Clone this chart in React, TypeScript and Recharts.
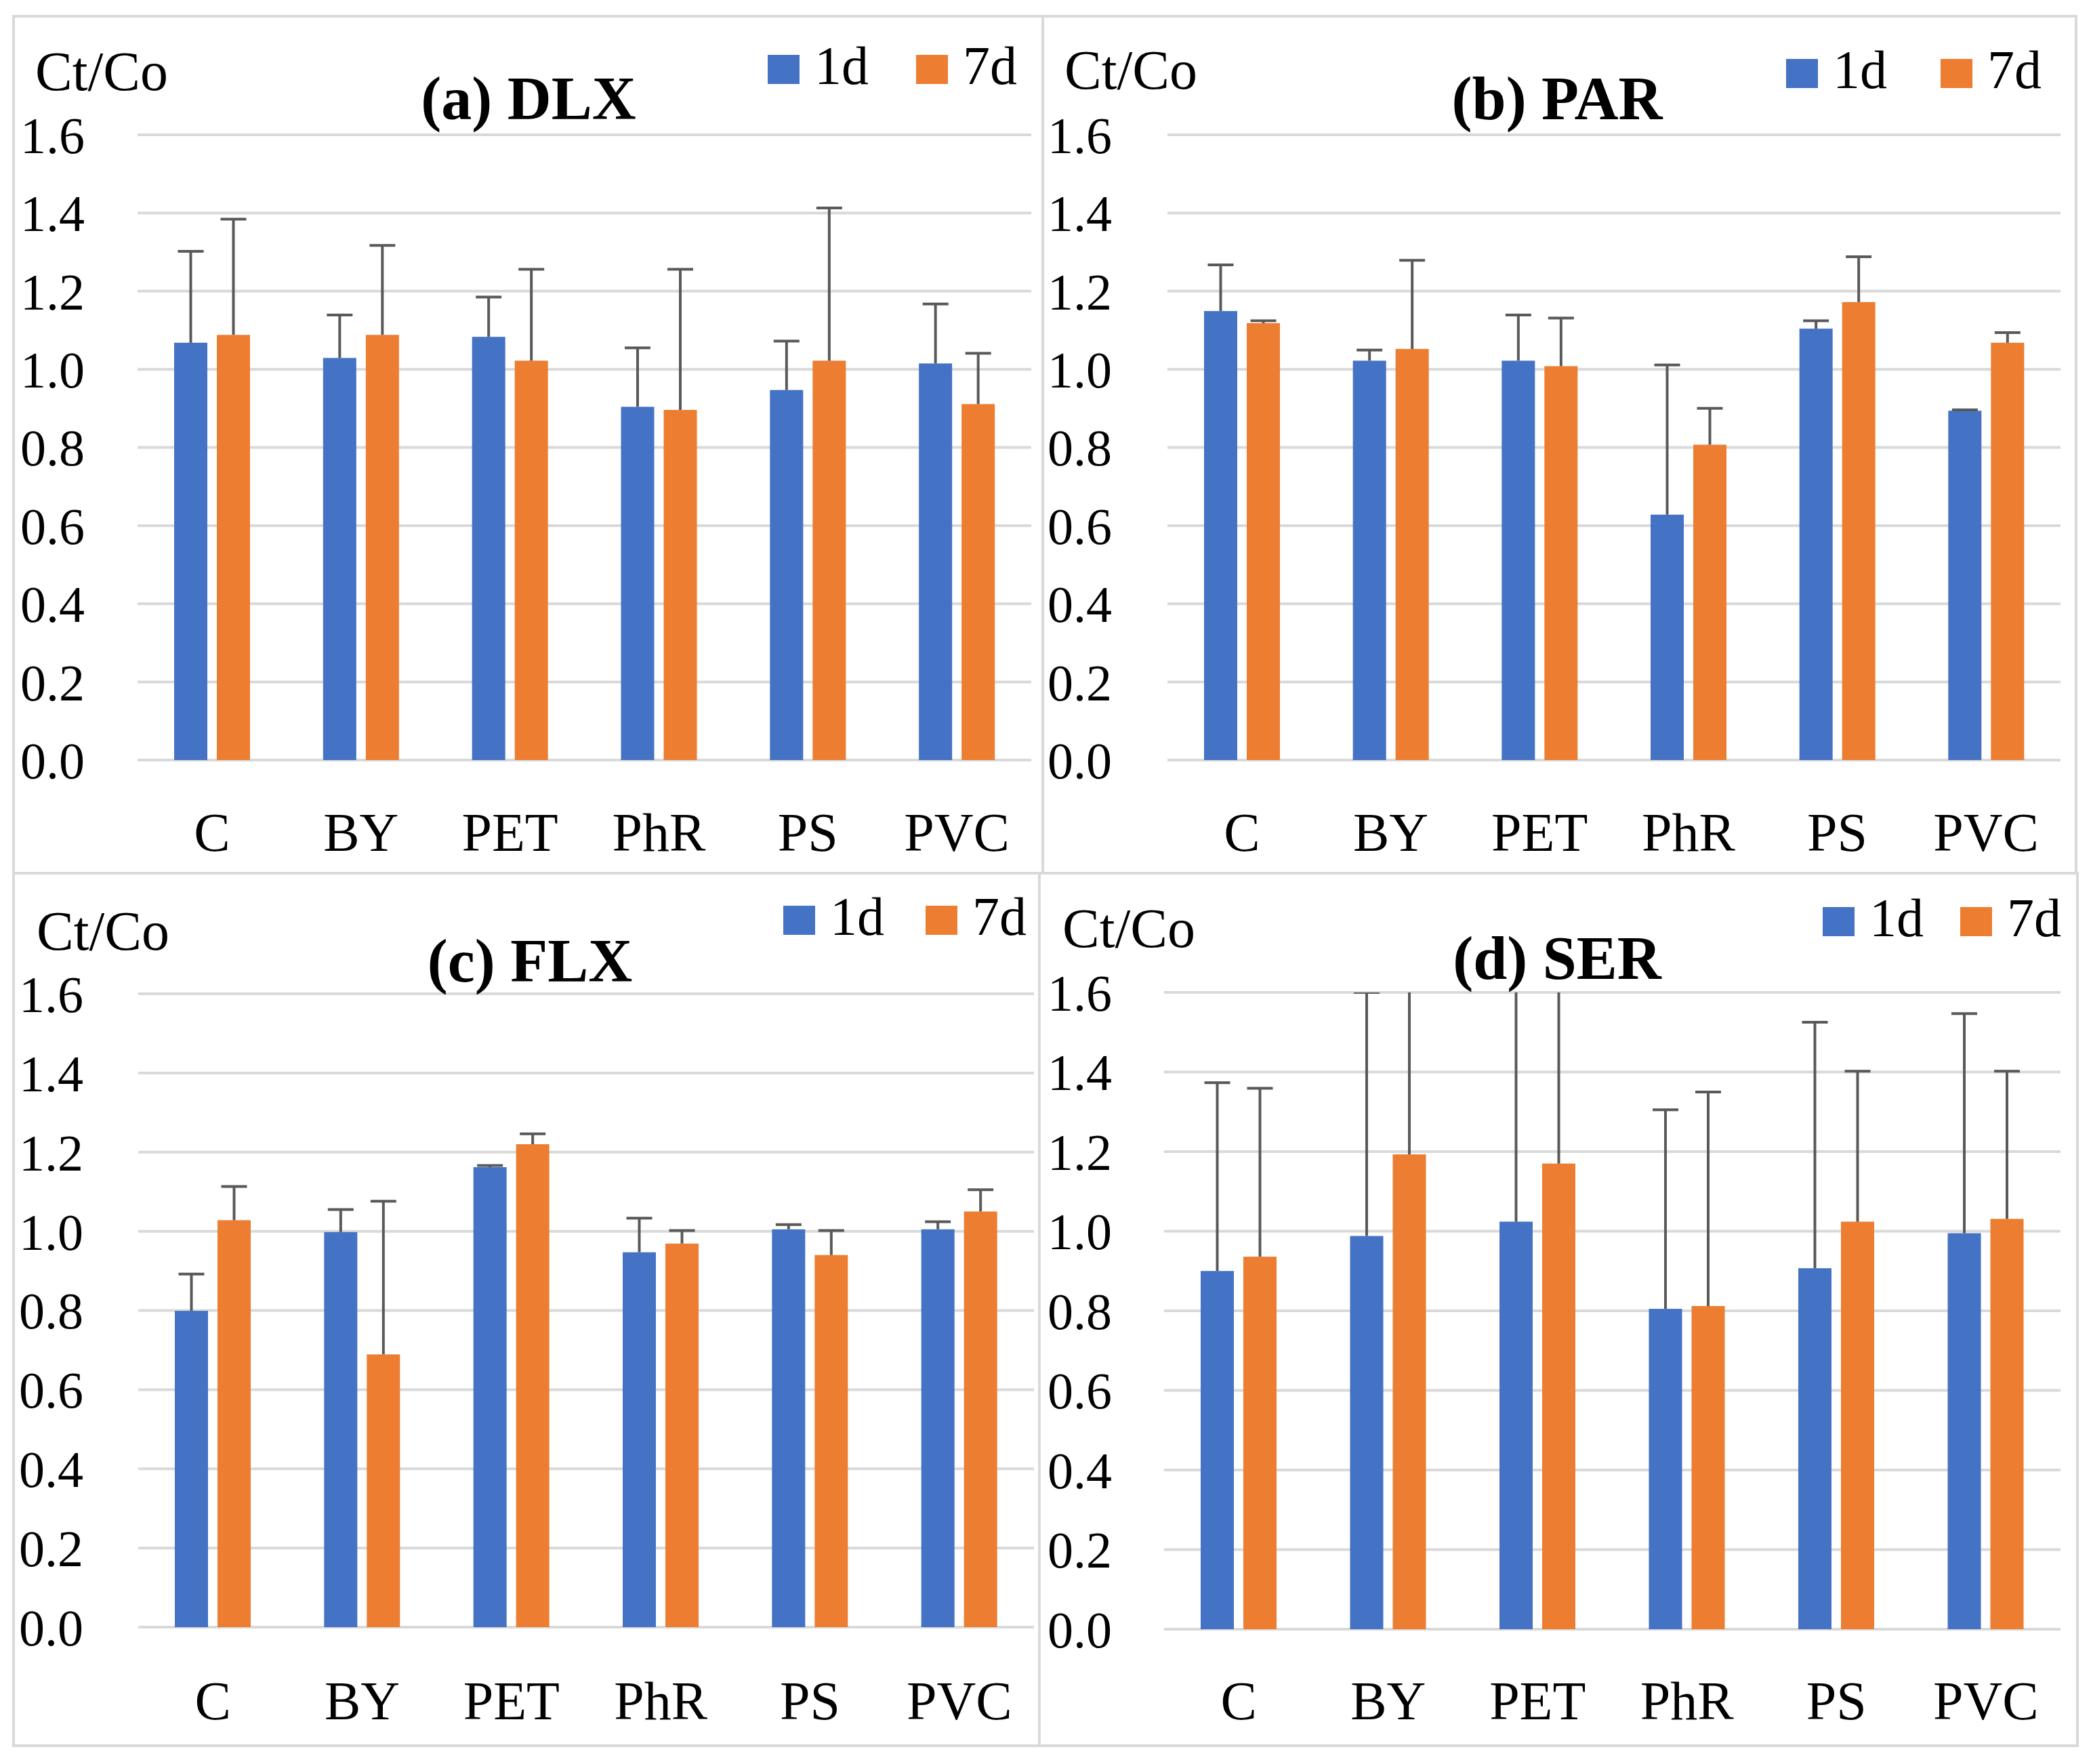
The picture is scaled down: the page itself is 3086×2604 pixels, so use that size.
import React from 'react';
import { BarChart, Bar, XAxis, YAxis, CartesianGrid, Legend } from 'recharts';

// ---------- data ----------
const categories = ['C', 'BY', 'PET', 'PhR', 'PS', 'PVC'];
const yTicks = [0, 0.2, 0.4, 0.6, 0.8, 1.0, 1.2, 1.4, 1.6];
const seriesNames = ['1d', '7d'];

const dlx1d = [1.068, 1.029, 1.083, 0.904, 0.947, 1.015];
const dlx1dErr = [0.234, 0.11, 0.102, 0.151, 0.125, 0.152];
const dlx7d = [1.088, 1.088, 1.022, 0.896, 1.022, 0.911];
const dlx7dErr = [0.296, 0.229, 0.234, 0.36, 0.391, 0.13];

const par1d = [1.149, 1.022, 1.022, 0.628, 1.104, 0.894];
const par1dErr = [0.118, 0.027, 0.117, 0.383, 0.02, 0.002];
const par7d = [1.118, 1.052, 1.008, 0.807, 1.172, 1.068];
const par7dErr = [0.006, 0.227, 0.123, 0.093, 0.116, 0.026];

const flx1d = [0.799, 0.998, 1.162, 0.947, 1.005, 1.005];
const flx1dErr = [0.093, 0.057, 0.004, 0.086, 0.012, 0.019];
const flx7d = [1.028, 0.689, 1.22, 0.969, 0.94, 1.05];
const flx7dErr = [0.085, 0.387, 0.026, 0.033, 0.062, 0.055];

const ser1d = [0.9, 0.988, 1.024, 0.805, 0.907, 0.995];
const ser1dErr = [0.473, 0.612, 0.7, 0.5, 0.618, 0.552];
const ser7d = [0.936, 1.193, 1.17, 0.812, 1.024, 1.031];
const ser7dErr = [0.423, 0.6, 0.6, 0.538, 0.378, 0.371];

// ---------- styles ----------
const BLUE = '#4472C4';
const ORANGE = '#ED7D31';
const ERR = '#595959';
const GRID = '#D9D9D9';
const FONT = '"Liberation Serif", "Times New Roman", serif';
const YMAX = yTicks[yTicks.length - 1];

function buildRows(v1: number[], e1: number[], v7: number[], e7: number[]) {
  return categories.map((c, i) => ({ cat: c, d1: v1[i], e1: e1[i], d7: v7[i], e7: e7[i] }));
}

function errShape(valKey: string, errKey: string) {
  return (props: any) => {
    const { x, y, width, height, fill, payload } = props;
    const v = payload[valKey];
    const e = payload[errKey];
    const k = v > 0 ? height / v : 0;
    const base = y + height;
    const top = base - YMAX * k;
    const eTop = y - e * k;
    const clipped = eTop < top - 0.5;
    const ey = Math.max(eTop, top);
    const cx = x + width / 2;
    return (
      <g>
        <rect x={x} y={y} width={width} height={height} fill={fill} />
        <line x1={cx} y1={y} x2={cx} y2={ey} stroke={ERR} strokeWidth={4} />
        {!clipped && (
          <line x1={cx - 19} y1={ey} x2={cx + 19} y2={ey} stroke={ERR} strokeWidth={4} />
        )}
      </g>
    );
  };
}

const panels = [
  {
    key: 'a', title: '(a) DLX', rows: buildRows(dlx1d, dlx1dErr, dlx7d, dlx7dErr),
    box: { x: 20, y: 24, w: 1519, h: 1265 }, plot: { l: 203, t: 199, r: 1522, b: 1122 },
    yMargin: 78, xMargin: 77, ctco: { x: 52, y: 133 }, titlePos: { x: 780, y: 176 },
    legend: { x: 1133, y: 81, step: 219 },
  },
  {
    key: 'b', title: '(b) PAR', rows: buildRows(par1d, par1dErr, par7d, par7dErr),
    box: { x: 1539, y: 24, w: 1525, h: 1265 }, plot: { l: 1723, t: 199, r: 3041, b: 1122 },
    yMargin: 82, xMargin: 77, ctco: { x: 1571, y: 131 }, titlePos: { x: 2298, y: 176 },
    legend: { x: 2636, y: 87, step: 228 },
  },
  {
    key: 'c', title: '(c) FLX', rows: buildRows(flx1d, flx1dErr, flx7d, flx7dErr),
    box: { x: 20, y: 1289, w: 1514, h: 1288 }, plot: { l: 204, t: 1467, r: 1526, b: 2402 },
    yMargin: 81, xMargin: 79, ctco: { x: 54, y: 1402 }, titlePos: { x: 782, y: 1449 },
    legend: { x: 1156, y: 1337, step: 210 },
  },
  {
    key: 'd', title: '(d) SER', rows: buildRows(ser1d, ser1dErr, ser7d, ser7dErr),
    box: { x: 1534, y: 1289, w: 1532, h: 1288 }, plot: { l: 1718, t: 1465, r: 3041, b: 2405 },
    yMargin: 77, xMargin: 76, ctco: { x: 1568, y: 1398 }, titlePos: { x: 2298, y: 1445 },
    legend: { x: 2690, y: 1339, step: 203 },
  },
];

function legendContent(step: number) {
  return (props: any) => {
    const payload = props.payload || [];
    return (
      <div style={{ position: 'relative', width: 2 * step, height: 43 }}>
        {payload.map((p: any, i: number) => (
          <div key={i} style={{ position: 'absolute', left: i * step, top: 0, height: 43 }}>
            <div style={{ position: 'absolute', left: 0, top: 0, width: 47, height: 43, background: p.color }} />
            <div
              style={{
                position: 'absolute', left: 69, top: -24, fontFamily: FONT, fontSize: 80,
                lineHeight: '80px', whiteSpace: 'nowrap', color: '#000',
              }}
            >
              {p.value}
            </div>
          </div>
        ))}
      </div>
    );
  };
}

function Panel({ p }: { p: (typeof panels)[number] }) {
  const { box, plot } = p;
  return (
    <div style={{ position: 'absolute', left: box.x, top: box.y, width: box.w, height: box.h }}>
      <BarChart
        width={box.w}
        height={box.h}
        data={p.rows}
        margin={{ top: plot.t - box.y, right: box.x + box.w - plot.r, bottom: 0, left: 0 }}
        barSize={49}
        barGap={14}
      >
        <CartesianGrid vertical={false} stroke={GRID} strokeWidth={4} />
        <XAxis
          dataKey="cat"
          interval={0}
          height={box.y + box.h - plot.b}
          axisLine={false}
          tickLine={false}
          tickSize={0}
          tickMargin={p.xMargin}
          tick={{ fontSize: 80, fill: '#000', fontFamily: FONT }}
        />
        <YAxis
          type="number"
          domain={[0, YMAX]}
          ticks={yTicks}
          allowDataOverflow
          width={plot.l - box.x}
          axisLine={false}
          tickLine={false}
          tickSize={0}
          tickMargin={p.yMargin}
          tickFormatter={(v: number) => v.toFixed(1)}
          tick={{ fontSize: 76, fill: '#000', fontFamily: FONT }}
        />
        <Legend
          layout="vertical"
          align="center"
          verticalAlign="middle"
          wrapperStyle={{ left: p.legend.x - box.x, top: p.legend.y - box.y, width: 'auto', height: 'auto' }}
          content={legendContent(p.legend.step)}
        />
        <Bar dataKey="d1" name={seriesNames[0]} fill={BLUE} isAnimationActive={false} shape={errShape('d1', 'e1')} />
        <Bar dataKey="d7" name={seriesNames[1]} fill={ORANGE} isAnimationActive={false} shape={errShape('d7', 'e7')} />
      </BarChart>
    </div>
  );
}

export default function App() {
  return (
    <div style={{ position: 'absolute', left: 0, top: 0, width: 3086, height: 2604, background: '#fff' }}>
      {panels.map((p) => (
        <Panel key={p.key} p={p} />
      ))}
      <svg
        width={3086}
        height={2604}
        style={{ position: 'absolute', left: 0, top: 0, pointerEvents: 'none' }}
      >
        {panels.map((p) => (
          <g key={p.key}>
            <rect x={p.box.x} y={p.box.y} width={p.box.w} height={p.box.h} fill="none" stroke={GRID} strokeWidth={4} />
            <text x={p.ctco.x} y={p.ctco.y} fontFamily={FONT} fontSize={82} fill="#000">
              Ct/Co
            </text>
            <text x={p.titlePos.x} y={p.titlePos.y} fontFamily={FONT} fontSize={90} fontWeight="bold" textAnchor="middle" fill="#000">
              {p.title}
            </text>
          </g>
        ))}
      </svg>
    </div>
  );
}
